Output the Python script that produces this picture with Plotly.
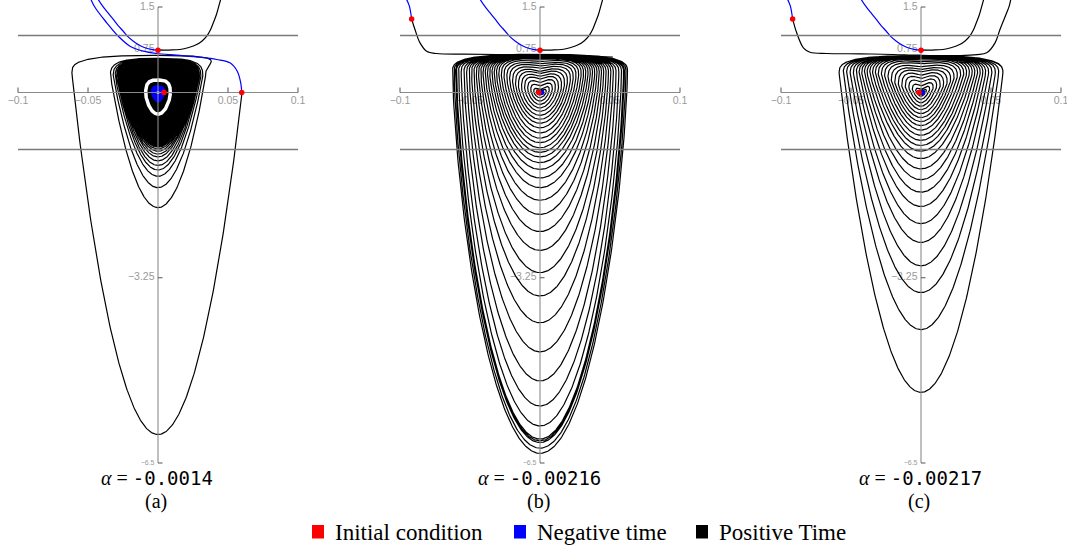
import numpy as np
import plotly.graph_objects as go

# ---------------- values ----------------
PANEL_TAGS = ["(a)", "(b)", "(c)"]
ALPHA_VALUES = ["-0.0014", "-0.00216", "-0.00217"]
LEGEND_LABELS = ["Initial condition", "Negative time", "Positive Time"]
LEGEND_COLORS = ["#ff0000", "#0000ff", "#000000"]

X_TICKS = [-0.1, -0.05, 0.05, 0.1]
X_TICK_TEXT = ["\u22120.1", "\u22120.05", "0.05", "0.1"]
Y_TICKS = [1.5, 0.75, -3.25, -6.5]
Y_TICK_TEXT = ["1.5", "0.75", "\u22123.25", "\u22126.5"]
Y_TICK_FONT = [10.5, 10.5, 10.5, 7]
H_LINES = [1.0, -1.0]
X_AXIS_SPAN = [-0.1, 0.1]
Y_AXIS_SPAN = [-6.5, 1.5]

# U-shaped orbit through the initial condition (0, 0.742) - same in all panels
U_NEG_X = [0.0, -0.005, -0.0093, -0.0135, -0.0176, -0.0215, -0.0248, -0.0285, -0.0319, -0.0358, -0.0395, -0.0445]
U_NEG_Y = [0.742, 0.758, 0.784, 0.835, 0.900, 0.980, 1.075, 1.175, 1.281, 1.400, 1.514, 1.70]
U_POS_X = [0.0, 0.008, 0.0157, 0.022, 0.0276, 0.0315, 0.0348, 0.0375, 0.0395, 0.0415, 0.0431, 0.0455]
U_POS_Y = [0.742, 0.745, 0.754, 0.790, 0.842, 0.905, 0.988, 1.100, 1.223, 1.350, 1.486, 1.70]

# ---- panel (a): alpha = -0.0014 ----
A_NEG_X = [0.0598, 0.0591, 0.0566, 0.0514, 0.0419, 0.030, 0.0134, -0.0009, -0.0105, -0.020, -0.0284, -0.0366, -0.0455, -0.049]
A_NEG_Y = [0.0, 0.170, 0.374, 0.521, 0.579, 0.618, 0.654, 0.684, 0.725, 0.812, 0.988, 1.223, 1.514, 1.70]
# positive-time orbit: successive turns (half-width, top, bottom)
A_W = [0.0615, 0.034, 0.032, 0.0306, 0.0296, 0.0289, 0.0283, 0.0279, 0.0276, 0.0273, 0.0271]
A_T = [0.65, 0.60, 0.59, 0.58, 0.575, 0.57, 0.565, 0.56, 0.56, 0.555, 0.555]
A_B = [-6.0, -2.02, -1.67, -1.47, -1.36, -1.28, -1.20, -1.13, -1.08, -1.03, -0.99]
A_CORE = [0.0268, 0.55, -0.96]        # dense black region (W, T, B)
A_RING = [0.0088, 0.22, -0.38]        # white gap (W, T, B)
A_BLUE = [0.0047, 0.12, -0.17]        # negative-time core (W, T, B)
A_RED = [[0.0, 0.742], [0.0598, 0.0], [0.0043, 0.0]]

# ---- panel (b): alpha = -0.00216 ----
B_NEG_X = [-0.0917, -0.0933, -0.095, -0.097]
B_NEG_Y = [1.29, 1.514, 1.62, 1.75]
B_POS_X = [-0.0917, -0.0893, -0.0857, -0.081, -0.074, -0.055, -0.031, -0.0024, 0.0143, 0.035, 0.052]
B_POS_Y = [1.29, 1.105, 0.87, 0.725, 0.684, 0.672, 0.667, 0.649, 0.640, 0.636, 0.62]
B_W = [0.0012, 0.0026, 0.0045, 0.0066, 0.0088, 0.011, 0.0132, 0.0154, 0.0175, 0.0196, 0.0217, 0.0237,
       0.0257, 0.0276, 0.0294, 0.0311, 0.0327, 0.0343, 0.0359, 0.0375, 0.0391, 0.0407, 0.0423, 0.0439,
       0.0455, 0.0472, 0.0489, 0.0506, 0.0524, 0.0543, 0.0563, 0.0582, 0.0597, 0.0600, 0.0603, 0.0614, 0.0625]
B_TC = [0.012, 0.03, 0.05, 0.11, 0.17, 0.23, 0.28, 0.33, 0.37, 0.42, 0.46, 0.50, 0.54, 0.58, 0.60, 0.615,
        0.625, 0.63, 0.635, 0.64, 0.64, 0.645, 0.645, 0.645, 0.65, 0.65, 0.65, 0.65, 0.655, 0.655, 0.655,
        0.655, 0.66, 0.66, 0.66, 0.665, 0.67]
B_T = [0.02, 0.05, 0.09, 0.17, 0.24, 0.31, 0.36, 0.41, 0.45, 0.49, 0.53, 0.56, 0.59, 0.61, 0.625, 0.63,
       0.635, 0.64, 0.64, 0.645, 0.645, 0.65, 0.65, 0.65, 0.65, 0.65, 0.655, 0.655, 0.655, 0.655, 0.66,
       0.66, 0.66, 0.66, 0.66, 0.665, 0.67]
B_B = [-0.02, -0.045, -0.09, -0.15, -0.21, -0.27, -0.33, -0.40, -0.47, -0.54, -0.62, -0.71, -0.80, -0.88,
       -0.97, -1.05, -1.13, -1.23, -1.35, -1.50, -1.67, -1.89, -2.14, -2.44, -2.77, -3.16, -3.57, -4.04,
       -4.55, -5.06, -5.50, -5.85, -6.08, -6.11, -6.14, -6.24, -6.33]
B_RED = [[0.0, 0.742], [-0.0917, 1.29], [-0.0009, 0.0]]
B_BLUE = [[0.0013, 0.0]]

# ---- panel (c): alpha = -0.00217 ----
C_NEG_X = [-0.0917, -0.0933, -0.095, -0.097]
C_NEG_Y = [1.29, 1.514, 1.62, 1.75]
C_POS_X = [-0.0917, -0.0888, -0.084, -0.0793, -0.0674, -0.0436, -0.0198, -0.0007, 0.0279, 0.040, 0.0469, 0.0529, 0.0564, 0.0612, 0.063, 0.065]
C_POS_Y = [1.29, 1.047, 0.784, 0.707, 0.684, 0.679, 0.667, 0.654, 0.649, 0.665, 0.696, 0.87, 1.105, 1.398, 1.514, 1.75]
C_W = [0.0012, 0.0024, 0.0038, 0.0062, 0.0087, 0.0112, 0.0137, 0.0162, 0.0187, 0.0212, 0.0236, 0.026,
       0.0283, 0.0305, 0.0326, 0.0346, 0.0366, 0.0385, 0.0404, 0.0423, 0.0442, 0.0462, 0.0483, 0.0506,
       0.0531, 0.0555, 0.0585]
C_TC = [0.012, 0.028, 0.05, 0.11, 0.18, 0.24, 0.30, 0.36, 0.40, 0.45, 0.50, 0.54, 0.57, 0.59, 0.605,
        0.615, 0.62, 0.625, 0.63, 0.63, 0.635, 0.635, 0.64, 0.64, 0.64, 0.645, 0.645]
C_T = [0.02, 0.045, 0.09, 0.17, 0.25, 0.32, 0.38, 0.43, 0.47, 0.51, 0.55, 0.58, 0.60, 0.615, 0.625,
       0.63, 0.635, 0.635, 0.64, 0.64, 0.64, 0.64, 0.645, 0.645, 0.645, 0.645, 0.645]
C_B = [-0.02, -0.04, -0.065, -0.12, -0.18, -0.24, -0.30, -0.37, -0.44, -0.51, -0.58, -0.66, -0.75, -0.84,
       -0.93, -1.03, -1.16, -1.34, -1.53, -1.75, -2.0, -2.3, -2.63, -3.04, -3.51, -4.16, -5.26]
C_RED = [[0.0, 0.742], [-0.0917, 1.29], [-0.0014, 0.0]]
C_BLUE = [[0.0011, 0.0]]

# ---------------- drawing helpers ----------------
def orbit_shape(s, W, T, Tc, B, a, n=3.0, m=1.5):
    """Closed orbit outline: s in [0,1]; starts at the right widest point, goes down (clockwise)."""
    s = np.asarray(s, float)
    W, T, Tc, B = (np.broadcast_to(np.asarray(v, float), s.shape) for v in (W, T, Tc, B))
    hc = np.minimum(0.3, 0.4 * (T - B))
    yc = T - hc
    seg = np.minimum((s * 4).astype(int), 3)
    t = s * 4 - seg
    x = np.zeros_like(s)
    y = np.zeros_like(s)
    k = seg == 0
    w = 1 - (1 - t[k]) ** 2
    x[k] = W[k] * np.sqrt(np.clip(1 - w ** a, 0, None))
    y[k] = yc[k] - (yc[k] - B[k]) * w
    k = seg == 1
    w = 1 - t[k] ** 2
    x[k] = -W[k] * np.sqrt(np.clip(1 - w ** a, 0, None))
    y[k] = yc[k] - (yc[k] - B[k]) * w
    for sign, kk, th in ((-1, seg == 2, t * np.pi / 2), (1, seg == 3, (1 - t) * np.pi / 2)):
        thk = th[kk]
        xx = W[kk] * np.abs(np.cos(thk)) ** (2 / n)
        yd = yc[kk] + hc[kk] * np.abs(np.sin(thk)) ** (2 / n)
        y[kk] = yd - (T[kk] - Tc[kk]) * (1 - xx / W[kk]) ** m
        x[kk] = sign * xx
    return x, y


def spiral(Ws, Ts, Tcs, Bs, a, npts=480, s_start=0.0):
    vals = [np.asarray(v, float) for v in (Ws, Ts, Tcs, Bs)]
    K = len(Ws)
    X, Y = [], []
    for k in range(K):
        last = k == K - 1
        s = np.linspace(0, 1, npts, endpoint=last)
        if k == 0 and s_start > 0:
            s = np.concatenate(([s_start], s[s > s_start]))
        if not last:
            f = np.clip((s - 0.75) / 0.25, 0, 1)
            f = f * f * (3 - 2 * f)
            j = k + 1
        else:
            f = np.zeros_like(s)
            j = k
        P = [v[k] + (v[j] - v[k]) * f for v in vals]
        x, y = orbit_shape(s, *P, a)
        X.append(x)
        Y.append(y)
    return np.concatenate(X), np.concatenate(Y)


def start_on_axis(W, T, B, a):
    hc = min(0.3, 0.4 * (T - B))
    yc = T - hc
    w0 = yc / (yc - B)
    return (1 - np.sqrt(1 - w0)) / 4


# ---------------- figure ----------------
PX_PER_X = 1400.0
PX_PER_Y = 57.0
Y_ZERO_PX = 92.5
W_FIG, H_FIG = 1067, 554
CENTERS = [158, 540, 921]
XR = [-0.102, 0.102]
YR = [-6.6, Y_ZERO_PX / PX_PER_Y]
y_dom = [(H_FIG - (Y_ZERO_PX - YR[0] * PX_PER_Y)) / H_FIG, 1.0]

LW = 1.2
GRAY_AX = "#8a8a8a"
GRAY_H = "#7a7a7a"
TICK_COL = "#9a9a9a"

fig = go.Figure()
layout = dict(width=W_FIG, height=H_FIG, margin=dict(l=0, r=0, t=0, b=0),
              paper_bgcolor="white", plot_bgcolor="white", showlegend=False)

panels = [
    dict(neg=[(U_NEG_X, U_NEG_Y), (A_NEG_X, A_NEG_Y)], pos=[(U_POS_X, U_POS_Y)],
         red=A_RED, blue=[]),
    dict(neg=[(U_NEG_X, U_NEG_Y), (B_NEG_X, B_NEG_Y)], pos=[(U_POS_X, U_POS_Y), (B_POS_X, B_POS_Y)],
         red=B_RED, blue=B_BLUE),
    dict(neg=[(U_NEG_X, U_NEG_Y), (C_NEG_X, C_NEG_Y)], pos=[(U_POS_X, U_POS_Y), (C_POS_X, C_POS_Y)],
         red=C_RED, blue=C_BLUE),
]

annotations = []
shapes = []
for i, p in enumerate(panels):
    xa = "x" if i == 0 else f"x{i + 1}"
    ya = "y" if i == 0 else f"y{i + 1}"
    c = CENTERS[i]
    half = (XR[1] - XR[0]) * PX_PER_X / 2
    layout["xaxis" if i == 0 else f"xaxis{i + 1}"] = dict(
        domain=[(c - half) / W_FIG, (c + half) / W_FIG], range=XR, visible=False, fixedrange=True)
    layout["yaxis" if i == 0 else f"yaxis{i + 1}"] = dict(
        domain=y_dom, range=YR, visible=False, fixedrange=True)
    kw = dict(xaxis=xa, yaxis=ya, hoverinfo="skip")

    # tick labels (under the curves)
    fig.add_trace(go.Scatter(x=X_TICKS, y=[-9 / PX_PER_Y] * len(X_TICKS), mode="text", text=X_TICK_TEXT,
                             textposition="middle center", cliponaxis=False,
                             textfont=dict(size=10.5, color=TICK_COL, family="Liberation Sans"), **kw))
    fig.add_trace(go.Scatter(x=[-3.5 / PX_PER_X] * len(Y_TICKS), y=Y_TICKS, mode="text", text=Y_TICK_TEXT,
                             textposition="middle left", cliponaxis=False,
                             textfont=dict(size=Y_TICK_FONT, color=TICK_COL, family="Liberation Sans"), **kw))

    # positive-time orbits
    if i == 0:
        s0 = start_on_axis(A_W[0], A_T[0], A_B[0], 1.05)
        x, y = spiral(A_W, A_T, A_T, A_B, 1.05, s_start=s0)
        fig.add_trace(go.Scatter(x=x, y=y, mode="lines", line=dict(color="black", width=LW), **kw))
        ss = np.linspace(0, 1, 600)
        x, y = orbit_shape(ss, A_CORE[0], A_CORE[1], A_CORE[1], A_CORE[2], 1.1)
        fig.add_trace(go.Scatter(x=x, y=y, mode="lines", fill="toself", fillcolor="black",
                                 line=dict(color="black", width=LW), **kw))
        x, y = orbit_shape(ss, A_RING[0], A_RING[1], A_RING[1], A_RING[2], 1.5)
        fig.add_trace(go.Scatter(x=x, y=y, mode="lines", line=dict(color="white", width=3.5), **kw))
        x, y = orbit_shape(ss, A_BLUE[0], A_BLUE[1], A_BLUE[1], A_BLUE[2], 1.5)
        fig.add_trace(go.Scatter(x=x, y=y, mode="lines", fill="toself", fillcolor="#0000ff",
                                 line=dict(color="#0000ff", width=1), **kw))
        fig.add_trace(go.Scatter(x=[0.0], y=[0.0], mode="markers",
                                 marker=dict(color="white", size=3), **kw))
    elif i == 1:
        x, y = spiral(B_W, B_T, B_TC, B_B, 1.45)
        fig.add_trace(go.Scatter(x=x, y=y, mode="lines", line=dict(color="black", width=LW), **kw))
    else:
        x, y = spiral(C_W, C_T, C_TC, C_B, 1.05)
        fig.add_trace(go.Scatter(x=x, y=y, mode="lines", line=dict(color="black", width=LW), **kw))

    for (cx, cy) in p["pos"]:
        fig.add_trace(go.Scatter(x=cx, y=cy, mode="lines", line=dict(color="black", width=LW, shape="spline"), **kw))
    for (cx, cy) in p["neg"]:
        fig.add_trace(go.Scatter(x=cx, y=cy, mode="lines", line=dict(color="#0000ff", width=LW, shape="spline"), **kw))

    # axes, reference lines and tick marks (drawn over the orbits)
    for h in H_LINES:
        fig.add_trace(go.Scatter(x=X_AXIS_SPAN, y=[h, h], mode="lines", line=dict(color=GRAY_H, width=1.3), **kw))
    fig.add_trace(go.Scatter(x=X_AXIS_SPAN, y=[0, 0], mode="lines", line=dict(color=GRAY_AX, width=1.1), **kw))
    fig.add_trace(go.Scatter(x=[0, 0], y=Y_AXIS_SPAN, mode="lines", line=dict(color=GRAY_AX, width=1.1), **kw))
    tx, ty = [], []
    for xt in X_TICKS:
        tx += [xt, xt, None]
        ty += [0, 5 / PX_PER_Y, None]
    for yt in Y_TICKS:
        tx += [0, 4.5 / PX_PER_X, None]
        ty += [yt, yt, None]
    fig.add_trace(go.Scatter(x=tx, y=ty, mode="lines", line=dict(color="#555555", width=1), cliponaxis=False, **kw))

    # initial conditions
    if p["blue"]:
        fig.add_trace(go.Scatter(x=[q[0] for q in p["blue"]], y=[q[1] for q in p["blue"]], mode="markers",
                                 marker=dict(color="#0000ff", size=5), **kw))
    fig.add_trace(go.Scatter(x=[q[0] for q in p["red"]], y=[q[1] for q in p["red"]], mode="markers",
                             marker=dict(color="#ff0000", size=5.5), cliponaxis=False, **kw))

    # captions
    annotations.append(dict(
        x=(c - 1) / W_FIG, y=1 - 478 / H_FIG, xref="paper", yref="paper", showarrow=False,
        xanchor="center", yanchor="middle",
        text=(f"<i>\u03b1</i>\u2005=\u2005<span style=\"font-family:DejaVu Sans Mono;font-size:19px\">"
              f"{ALPHA_VALUES[i]}</span>"),
        font=dict(family="Liberation Serif", size=20, color="black")))
    annotations.append(dict(
        x=(c - 2) / W_FIG, y=1 - 501 / H_FIG, xref="paper", yref="paper", showarrow=False,
        xanchor="center", yanchor="middle", text=PANEL_TAGS[i],
        font=dict(family="Liberation Serif", size=20, color="black")))

# legend
LEG_SQ_X = [312, 514, 696]
for j, lab in enumerate(LEGEND_LABELS):
    x0 = LEG_SQ_X[j]
    shapes.append(dict(type="rect", xref="paper", yref="paper",
                       x0=x0 / W_FIG, x1=(x0 + 12) / W_FIG,
                       y0=1 - 538.5 / H_FIG, y1=1 - 525 / H_FIG,
                       fillcolor=LEGEND_COLORS[j], line=dict(width=0)))
    annotations.append(dict(x=(x0 + 21) / W_FIG, y=1 - 532 / H_FIG, xref="paper", yref="paper",
                            showarrow=False, xanchor="left", yanchor="middle", text=lab,
                            font=dict(family="Liberation Serif", size=23, color="black")))

layout["annotations"] = annotations
layout["shapes"] = shapes
fig.update_layout(**layout)
fig.write_html("out.html", config={"displayModeBar": False},
               post_script="document.body.style.margin='0px';")
